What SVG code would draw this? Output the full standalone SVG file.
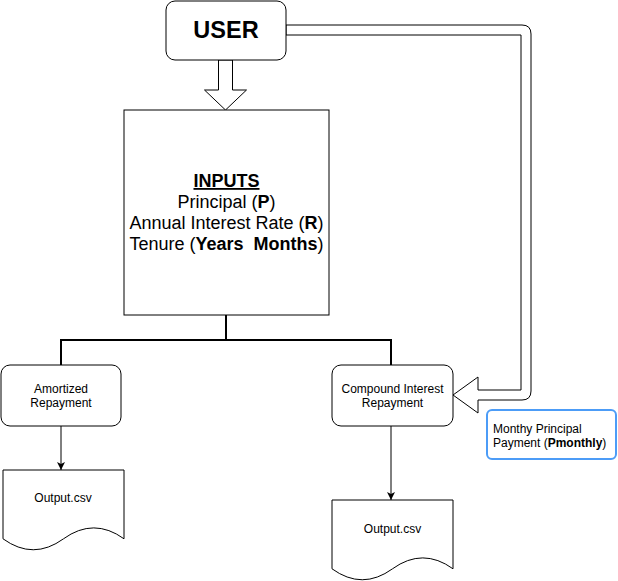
<svg xmlns="http://www.w3.org/2000/svg" width="618" height="581" viewBox="0 0 618 581">
<style>
.box{fill:#fff;stroke:#000;stroke-width:1}
.t{font-family:"Liberation Sans",Arial,sans-serif;fill:#000}
.s{font-size:12px}
.c{text-anchor:middle}
.thick{fill:none;stroke:#000;stroke-width:2}
.thin{fill:none;stroke:#000;stroke-width:1}
</style>
<defs>
<marker id="arr" markerWidth="10" markerHeight="10" refX="8" refY="4" orient="auto" markerUnits="userSpaceOnUse">
<path d="M0,0 L8,4 L0,8 L2,4 Z" fill="#000"/>
</marker>
</defs>
<rect width="618" height="581" fill="#fff"/>
<g id="connectors">
<path class="thick" d="M226,315 V340 M61,340 H391 M61,339 V365 M391,339 V365"/>
<path class="thin" d="M61,426 V470" marker-end="url(#arr)"/>
<path class="thin" d="M391,426 V500" marker-end="url(#arr)"/>
<path class="box" d="M218.5,60 V90 H204.5 L225.5,110 L246.5,90 H232.5 V60 Z"/>
<path class="box" d="M286,25 H522 Q531,25 531,34 V391 Q531,400 522,400 H478 V413 L453,395 L478,377 V390 H521 V35 H286 Z"/>
</g>
<g id="user">
<rect class="box" x="166" y="1" width="120" height="59" rx="9"/>
<text class="t c" x="226" y="38" font-size="23.5" font-weight="bold">USER</text>
</g>
<g id="inputs">
<rect class="box" x="124" y="110" width="205" height="205"/>
<text class="t c" x="226.5" y="187" font-size="18" font-weight="bold" text-decoration="underline">INPUTS</text>
<text class="t c" x="226.5" y="208" font-size="18">Principal (<tspan font-weight="bold">P</tspan>)</text>
<text class="t c" x="226.5" y="229" font-size="18">Annual Interest Rate (<tspan font-weight="bold">R</tspan>)</text>
<text class="t c" x="226.5" y="250" font-size="18">Tenure (<tspan font-weight="bold">Years&#160; Months</tspan>)</text>
</g>
<g id="amortized">
<rect class="box" x="1" y="365" width="120" height="61" rx="9"/>
<text class="t s c" x="61" y="393">Amortized</text>
<text class="t s c" x="61" y="407">Repayment</text>
</g>
<g id="compound">
<rect class="box" x="332" y="365" width="121" height="61" rx="9"/>
<text class="t s c" x="392.5" y="393">Compound Interest</text>
<text class="t s c" x="392.5" y="407">Repayment</text>
</g>
<g id="output1">
<path class="box" d="M3,470 H124 V538.8 Q93.75,517 63.5,538.8 Q33.25,560.7 3,538.8 Z"/>
<text class="t s c" x="63" y="502">Output.csv</text>
</g>
<g id="output2">
<path class="box" d="M332,500 H453 V568.8 Q422.75,547 392.5,568.8 Q362.25,590.7 332,568.8 Z"/>
<text class="t s c" x="392.5" y="533">Output.csv</text>
</g>
<g id="monthly">
<rect x="487" y="410" width="129" height="49" rx="5" fill="#fff" stroke="#4c9cf7" stroke-width="2"/>
<text class="t s" x="493" y="433">Monthy Principal</text>
<text class="t s" x="493" y="447">Payment (<tspan font-weight="bold">Pmonthly</tspan>)</text>
</g>
</svg>
